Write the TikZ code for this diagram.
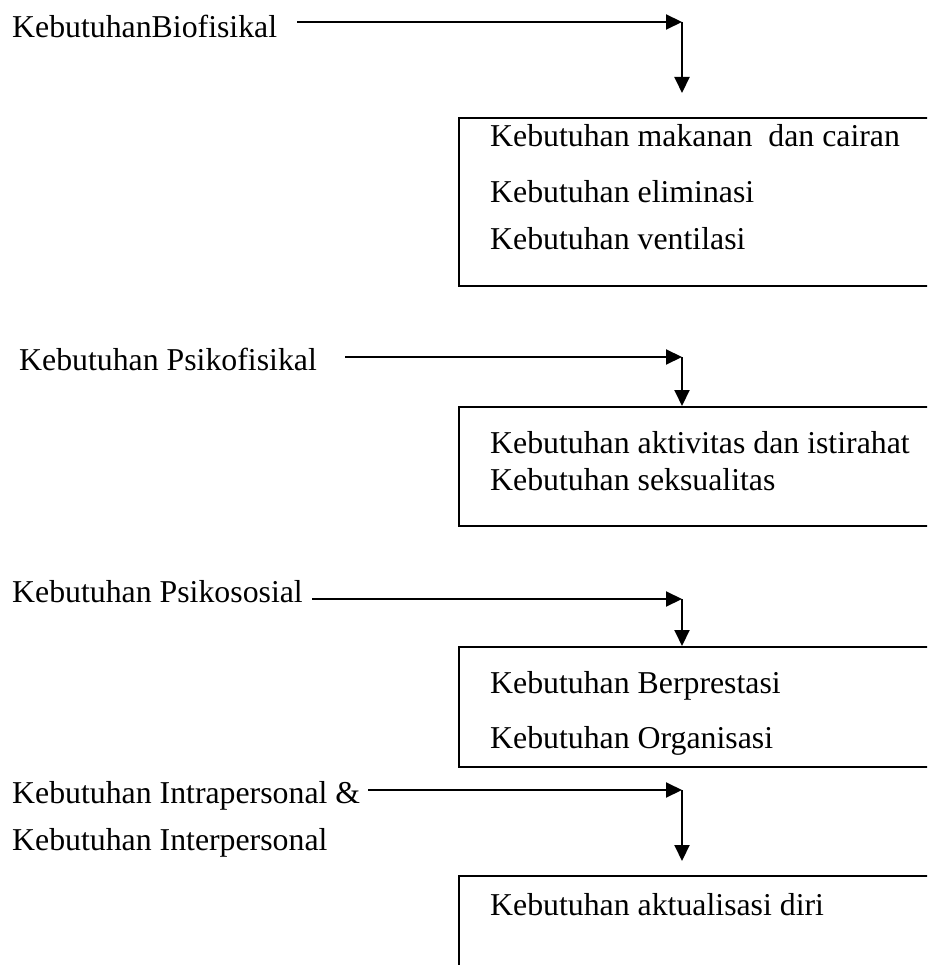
\documentclass[tikz,border=0pt]{standalone}
\usepackage{fontspec}
\setmainfont{Liberation Serif}
\usetikzlibrary{arrows.meta}
\tikzset{
  lbl/.style={anchor=base west, inner sep=0pt, font=\fontsize{31.8pt}{38pt}\selectfont},
  boxst/.style={draw, line width=2pt, anchor=north west, inner sep=0pt, minimum width=520pt},
  conn/.style={line width=2pt},
  arr/.style={line width=2pt, -{Triangle[length=16pt,width=15pt]}}
}
\begin{document}
\begin{tikzpicture}[x=1pt,y=-1pt]
\useasboundingbox (0,0) rectangle (927,965);
\clip (0,0) rectangle (927,965);
% left labels
\node[lbl] (l1) at (12,38) {KebutuhanBiofisikal};
\node[lbl] (l2) at (19,370) {Kebutuhan Psikofisikal};
\node[lbl] (l3) at (12,602) {Kebutuhan Psikososial};
\node[lbl] (l4a) at (12,803) {Kebutuhan Intrapersonal \&};
\node[lbl] (l4b) at (12,850) {Kebutuhan Interpersonal};
% boxes
\node[boxst, minimum height=168pt] (b1) at (458,117) {};
\node[boxst, minimum height=119pt] (b2) at (458,406) {};
\node[boxst, minimum height=120pt] (b3) at (458,646) {};
\node[boxst, minimum height=200pt] (b4) at (458,875) {};
% box texts
\node[lbl] (t11) at (490,147) {Kebutuhan makanan\ \ dan cairan};
\node[lbl] (t12) at (490,203) {Kebutuhan eliminasi};
\node[lbl] (t13) at (490,250) {Kebutuhan ventilasi};
\node[lbl] (t21) at (490,453) {Kebutuhan aktivitas dan istirahat};
\node[lbl] (t22) at (490,490) {Kebutuhan seksualitas};
\node[lbl] (t31) at (490,693) {Kebutuhan Berprestasi};
\node[lbl] (t32) at (490,748) {Kebutuhan Organisasi};
\node[lbl] (t41) at (490,915) {Kebutuhan aktualisasi diri};
% connector points
\coordinate (s1) at (297,22);
\coordinate (k1) at (682,22);
\coordinate (e1) at (682,93);
\coordinate (s2) at (345,357);
\coordinate (k2) at (682,357);
\coordinate (s3) at (312,599);
\coordinate (k3) at (682,599);
\coordinate (s4) at (368,790);
\coordinate (k4) at (682,790);
\coordinate (e4) at (682,861);
% connectors
\draw[arr] (s1) -- (k1);
\draw[arr] (k1) -- (e1);
\draw[arr] (s2) -- (k2);
\draw[arr] (k2) -- (k2 |- b2.north);
\draw[arr] (s3) -- (k3);
\draw[arr] (k3) -- (k3 |- b3.north);
\draw[arr] (s4) -- (k4);
\draw[arr] (k4) -- (e4);
\end{tikzpicture}
\end{document}
